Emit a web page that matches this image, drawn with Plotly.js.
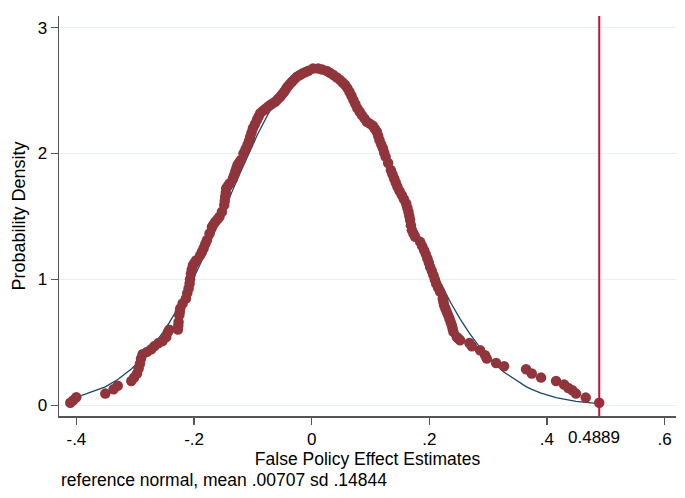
<!DOCTYPE html>
<html>
<head>
<meta charset="utf-8">
<script src="https://cdn.plot.ly/plotly-3.0.1.min.js"></script>
<style>
  html, body { margin: 0; padding: 0; background: #ffffff; }
  #chart { width: 685px; height: 498px; }
</style>
</head>
<body>
<div id="chart"></div>
<script>
// Kernel density of the placebo (false policy) effect estimates,
// evaluated at each estimate.
const kdeX = [
  -0.4104, -0.4053, -0.4002, -0.3509, -0.3368, -0.3297, -0.3067, -0.3021, -0.2970, -0.2943,
  -0.2919, -0.2902, -0.2875, -0.2800, -0.2727, -0.2671, -0.2603, -0.2535, -0.2472, -0.2443,
  -0.2421, -0.2274, -0.2268, -0.2263, -0.2251, -0.2243, -0.2235, -0.2195, -0.2138, -0.2116,
  -0.2093, -0.2076, -0.2068, -0.2053, -0.2039, -0.2019, -0.1991, -0.1963, -0.1895, -0.1866,
  -0.1839, -0.1810, -0.1781, -0.1737, -0.1696, -0.1669, -0.1640, -0.1602, -0.1567, -0.1526,
  -0.1487, -0.1478, -0.1470, -0.1461, -0.1453, -0.1427, -0.1397, -0.1339, -0.1318, -0.1300,
  -0.1281, -0.1261, -0.1232, -0.1203, -0.1159, -0.1125, -0.1091, -0.1067, -0.1045, -0.1023,
  -0.0999, -0.0965, -0.0931, -0.0904, -0.0875, -0.0833, -0.0790, -0.0748, -0.0705, -0.0663,
  -0.0620, -0.0578, -0.0535, -0.0501, -0.0467, -0.0438, -0.0411, -0.0374, -0.0336, -0.0294,
  -0.0251, -0.0200, -0.0150, -0.0102, -0.0054, 0.0025, 0.0110, 0.0178, 0.0258, 0.0311,
  0.0370, 0.0428, 0.0484, 0.0527, 0.0569, 0.0607, 0.0642, 0.0676, 0.0710, 0.0744,
  0.0778, 0.0816, 0.0853, 0.0895, 0.0938, 0.0989, 0.1040, 0.1074, 0.1108, 0.1130,
  0.1152, 0.1181, 0.1210, 0.1232, 0.1257, 0.1300, 0.1346, 0.1373, 0.1402, 0.1430,
  0.1458, 0.1495, 0.1533, 0.1568, 0.1606, 0.1626, 0.1645, 0.1660, 0.1674, 0.1687,
  0.1703, 0.1730, 0.1759, 0.1844, 0.1878, 0.1912, 0.1941, 0.1968, 0.1992, 0.2014,
  0.2043, 0.2070, 0.2094, 0.2116, 0.2150, 0.2184, 0.2229, 0.2240, 0.2251, 0.2274,
  0.2297, 0.2320, 0.2342, 0.2362, 0.2382, 0.2396, 0.2410, 0.2467, 0.2494, 0.2523,
  0.2681, 0.2722, 0.2863, 0.2948, 0.2977, 0.3135, 0.3271, 0.3645, 0.3742, 0.3900,
  0.4155, 0.4291, 0.4364, 0.4432, 0.4494, 0.4659, 0.4889
];
const kdeDensity = [
  0.020, 0.040, 0.064, 0.093, 0.127, 0.155, 0.193, 0.220, 0.252, 0.292,
  0.331, 0.371, 0.405, 0.424, 0.445, 0.471, 0.495, 0.511, 0.543, 0.583,
  0.600, 0.602, 0.632, 0.662, 0.715, 0.742, 0.769, 0.808, 0.848, 0.890,
  0.928, 0.967, 1.002, 1.045, 1.079, 1.113, 1.133, 1.153, 1.192, 1.219,
  1.246, 1.280, 1.312, 1.365, 1.417, 1.437, 1.457, 1.477, 1.497, 1.537,
  1.590, 1.622, 1.656, 1.689, 1.723, 1.741, 1.762, 1.802, 1.828, 1.855,
  1.881, 1.908, 1.928, 1.948, 2.001, 2.033, 2.067, 2.099, 2.133, 2.166,
  2.200, 2.232, 2.266, 2.292, 2.319, 2.337, 2.353, 2.369, 2.385, 2.398,
  2.411, 2.431, 2.451, 2.471, 2.490, 2.510, 2.530, 2.550, 2.570, 2.590,
  2.610, 2.623, 2.637, 2.647, 2.657, 2.675, 2.675, 2.667, 2.655, 2.641,
  2.623, 2.603, 2.583, 2.564, 2.544, 2.519, 2.490, 2.458, 2.424, 2.391,
  2.358, 2.332, 2.305, 2.279, 2.252, 2.237, 2.220, 2.196, 2.173, 2.140,
  2.107, 2.073, 2.041, 2.008, 1.975, 1.924, 1.868, 1.835, 1.802, 1.769,
  1.735, 1.701, 1.669, 1.636, 1.603, 1.570, 1.537, 1.504, 1.471, 1.431,
  1.391, 1.365, 1.338, 1.298, 1.266, 1.232, 1.199, 1.166, 1.133, 1.099,
  1.067, 1.033, 1.000, 0.967, 0.934, 0.901, 0.848, 0.821, 0.795, 0.769,
  0.742, 0.715, 0.689, 0.662, 0.636, 0.610, 0.583, 0.543, 0.530, 0.517,
  0.495, 0.469, 0.437, 0.397, 0.371, 0.336, 0.310, 0.286, 0.252, 0.220,
  0.193, 0.165, 0.138, 0.119, 0.093, 0.061, 0.020
];

// Reference normal distribution parameters (stated in the note).
const normalMean = 0.00707;
const normalSD = 0.14844;

// Actual policy effect marked by the vertical line.
const actualEffect = 0.4889;

const xTickVals = [-0.4, -0.2, 0, 0.2, 0.4, 0.6];
const xTickText = ['-.4', '-.2', '0', '.2', '.4', '.6'];
const yTickVals = [0, 1, 2, 3];
const yTickText = ['0', '1', '2', '3'];

const xTitle = 'False Policy Effect Estimates';
const yTitle = 'Probability Density';
const noteText = 'reference normal, mean .00707 sd .14844';

// Normal density evaluated at the same points as the kernel estimate.
const normalY = kdeX.map(x => {
  const z = (x - normalMean) / normalSD;
  return Math.exp(-0.5 * z * z) / (normalSD * Math.sqrt(2 * Math.PI));
});

const FONT = 'Liberation Sans, Arial, Helvetica, sans-serif';
const AXIS_COLOR = '#555555';

const traces = [
  {
    x: kdeX, y: normalY, type: 'scatter', mode: 'lines',
    line: { color: '#1a476f', width: 1.3 },
    hoverinfo: 'skip', showlegend: false
  },
  {
    x: kdeX, y: kdeDensity, type: 'scatter', mode: 'markers',
    marker: { color: '#90353b', size: 10.5, line: { width: 0 } },
    showlegend: false
  }
];

const layout = {
  width: 685, height: 498,
  margin: { l: 59, r: 9, t: 16, b: 82, pad: 0 },
  paper_bgcolor: '#ffffff', plot_bgcolor: '#ffffff',
  font: { family: FONT, size: 17, color: '#000000' },
  showlegend: false,
  xaxis: {
    range: [-0.4296, 0.6194],
    tickvals: xTickVals, ticktext: xTickText,
    ticks: 'outside', ticklen: 7, tickwidth: 1.3, tickcolor: AXIS_COLOR,
    showline: true, linecolor: AXIS_COLOR, linewidth: 1.5,
    showgrid: false, zeroline: false,
    tickfont: { family: FONT, size: 17, color: '#000000' },
    title: { text: xTitle, font: { family: FONT, size: 17.5, color: '#000000' }, standoff: 0 }
  },
  yaxis: {
    range: [-0.085, 3.092],
    tickvals: yTickVals, ticktext: yTickText,
    ticks: 'outside', ticklen: 7, tickwidth: 1.3, tickcolor: AXIS_COLOR,
    showline: true, linecolor: AXIS_COLOR, linewidth: 1.5,
    showgrid: true, gridcolor: '#e8eff1', gridwidth: 1,
    zeroline: false,
    tickfont: { family: FONT, size: 17, color: '#000000' },
    title: { text: yTitle, font: { family: FONT, size: 18, color: '#000000' }, standoff: 7 }
  },
  shapes: [
    {
      type: 'line', xref: 'x', yref: 'paper',
      x0: actualEffect, x1: actualEffect, y0: 0, y1: 1,
      line: { color: '#c8103a', width: 2 }
    }
  ],
  annotations: [
    {
      text: String(actualEffect), xref: 'x', yref: 'paper',
      x: actualEffect, y: 0, xanchor: 'center', yanchor: 'top',
      xshift: -5, yshift: -10, showarrow: false,
      font: { family: FONT, size: 17, color: '#000000' }
    },
    {
      text: noteText, xref: 'paper', yref: 'paper',
      x: 0, y: -0.16, xanchor: 'left', yanchor: 'middle',
      showarrow: false,
      font: { family: FONT, size: 17.5, color: '#000000' }
    }
  ]
};

Plotly.newPlot('chart', traces, layout, { staticPlot: true, displayModeBar: false });
</script>
</body>
</html>
